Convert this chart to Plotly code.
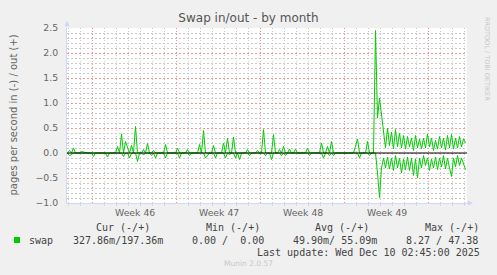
import plotly.graph_objects as go
import pandas as pd

# ---------------- data ----------------
start_time = "2025-11-06 22:00"
step = "4h"

swap_out = [
    0, 0.05, 0, 0.1, 0, 0, 0, 0.03, 0.02, 0,
    0, 0, 0, 0, 0, 0, 0, 0, 0, 0,
    0, 0, 0, 0, 0, 0.13, 0, 0.38, 0, 0.23,
    0.13, 0, 0.15, 0, 0.53, 0, 0, 0, 0.07, 0,
    0.19, 0, 0, 0.05, 0, 0, 0, 0, 0, 0.17,
    0, 0, 0, 0, 0, 0.1, 0, 0, 0, 0,
    0.07, 0, 0, 0, 0, 0, 0.17, 0, 0.45, 0,
    0, 0, 0, 0.15, 0, 0, 0, 0, 0.2, 0,
    0.3, 0, 0, 0.32, 0, 0, 0, 0, 0, 0,
    0.07, 0, 0, 0, 0, 0.05, 0, 0, 0.47, 0,
    0, 0, 0, 0.37, 0, 0, 0.07, 0, 0.13, 0,
    0, 0.08, 0, 0, 0.08, 0, 0, 0, 0, 0,
    0.1, 0, 0, 0, 0, 0, 0, 0.2, 0, 0,
    0.13, 0, 0.23, 0, 0, 0, 0, 0, 0, 0,
    0, 0, 0, 0, 0.13, 0.28, 0, 0, 0, 0,
    0.23, 0, 0, 0, 2.45, 0.7, 1.1, 0.77, 0.45, 0.1,
    0.5, 0.15, 0.42, 0.08, 0.47, 0.12, 0.4, 0.1, 0.35, 0.08,
    0.33, 0.12, 0.3, 0.05, 0.35, 0.1, 0.28, 0.08, 0.3, 0.1,
    0.38, 0.12, 0.3, 0.05, 0.25, 0.08, 0.33, 0.1, 0.3, 0.06,
    0.35, 0.1, 0.37, 0.08, 0.3, 0.1, 0.33, 0.12, 0.28, 0.2,
]

swap_in = [
    0, 0.05, 0.03, 0, 0, 0, 0, 0, 0, 0,
    0, 0, 0, 0.07, 0, 0, 0, 0, 0, 0,
    0.08, 0, 0, 0, 0, 0, 0, 0, 0.07, 0,
    0, 0.1, 0, 0, 0, 0.17, 0, 0, 0.04, 0,
    0, 0, 0.05, 0, 0.1, 0, 0, 0, 0, 0.1,
    0, 0, 0, 0, 0, 0, 0.1, 0, 0, 0,
    0, 0.05, 0, 0, 0, 0, 0, 0, 0, 0.1,
    0.05, 0, 0, 0, 0.1, 0, 0, 0, 0, 0.1,
    0, 0.03, 0, 0, 0.1, 0, 0.13, 0, 0, 0,
    0, 0.05, 0, 0, 0, 0, 0, 0, 0, 0.05,
    0, 0, 0.13, 0, 0, 0, 0, 0.05, 0, 0.05,
    0, 0, 0, 0, 0, 0, 0, 0, 0, 0,
    0, 0.05, 0, 0, 0, 0, 0, 0, 0.1, 0,
    0, 0.05, 0, 0.05, 0, 0, 0, 0, 0, 0,
    0, 0, 0, 0, 0, 0, 0.1, 0, 0, 0,
    0, 0.05, 0, 0, 0, 0.4, 0.89, 0.3, 0.1, 0.3,
    0.08, 0.32, 0.1, 0.35, 0.05, 0.3, 0.1, 0.4, 0.12, 0.33,
    0.08, 0.35, 0.1, 0.45, 0.12, 0.5, 0.1, 0.3, 0.05, 0.25,
    0.1, 0.35, 0.12, 0.3, 0.08, 0.33, 0.1, 0.28, 0.05, 0.32,
    0.1, 0.3, 0.47, 0.1, 0.28, 0.05, 0.25, 0.1, 0.2, 0.33,
]

x_range = ["2025-11-06 21:00", "2025-12-10 05:00"]
y_range = [-1, 2.5]
week_start = "2025-11-09"
week_labels = ["Week 46", "Week 47", "Week 48", "Week 49"]
week_label_pos = ["2025-11-12 12:00", "2025-11-19 12:00",
                  "2025-11-26 12:00", "2025-12-03 12:00"]

legend_headers = ["Cur (-/+)", "Min (-/+)", "Avg (-/+)", "Max (-/+)"]
legend_name = "swap"
legend_values = ["327.86m/197.36m", "0.00 /  0.00", "49.90m/ 55.09m", "8.27 / 47.38"]
last_update = "Last update: Wed Dec 10 02:45:00 2025"
title_text = "Swap in/out - by month"
y_title = "pages per second in (-) / out (+)"

# ---------------- figure ----------------
times = pd.date_range(start=start_time, periods=len(swap_out), freq=step)
GREEN = "#00CC00"
W, H = 497, 275
L, R, T, B = 67, 467, 28, 203


def px(x):
    return (x - L) / (R - L)


def py(y):
    return (B - y) / (B - T)


fig = go.Figure()
fig.add_trace(go.Scatter(x=times, y=[-v for v in swap_in], mode="lines",
                         line=dict(color=GREEN, width=1), showlegend=False,
                         hoverinfo="skip"))
fig.add_trace(go.Scatter(x=times, y=swap_out, mode="lines",
                         line=dict(color=GREEN, width=1), showlegend=False,
                         hoverinfo="skip"))

MAJ = "#EC9595"
MIN = "#C8C8C8"
AX = "#CFD6F8"
FONT = "#666666"
XDASH = "1px,2px"
YDASH = "2px,2px"

fig.update_layout(
    width=W, height=H,
    margin=dict(l=L, r=W - R, t=T, b=H - B),
    paper_bgcolor="#F0F0F0",
    plot_bgcolor="#FFFFFF",
    font=dict(family="DejaVu Sans", color=FONT, size=9.3),
    title=dict(text=title_text, x=0.5, xref="container", xanchor="center",
               y=1 - 18 / H, yref="container", yanchor="middle",
               font=dict(family="DejaVu Sans", size=12, color="#555555")),
    xaxis=dict(type="date", range=x_range, tick0=week_start,
               dtick=7 * 86400000, showticklabels=False, ticks="",
               showgrid=True, gridcolor=MAJ, griddash=XDASH, gridwidth=1,
               showline=True, linecolor=AX, linewidth=1, zeroline=False,
               minor=dict(tick0=week_start, dtick=86400000, showgrid=True,
                          gridcolor=MIN, griddash=XDASH, gridwidth=1,
                          ticks="outside", ticklen=2, tickcolor=AX)),
    yaxis=dict(type="linear", range=y_range, tickmode="linear", tick0=0,
               dtick=0.5, tickformat=".1f",
               showgrid=True, gridcolor=MAJ, griddash=YDASH, gridwidth=1,
               showline=True, linecolor=AX, linewidth=1, zeroline=False,
               ticks="", ticklabelstandoff=6,
               tickfont=dict(size=9.3, color=FONT),
               minor=dict(tick0=0, dtick=0.1, showgrid=True, gridcolor=MIN,
                          griddash=YDASH, gridwidth=1)),
    showlegend=False,
)

# zero rule drawn above the data (rrdtool HRULE)
fig.add_shape(type="line", xref="paper", yref="y", x0=0, x1=1, y0=0, y1=0,
              line=dict(color="#000000", width=1), layer="above")

ann = []
# week labels under the x axis, centred on each week
for wx, wtxt in zip(week_label_pos, week_labels):
    ann.append(dict(text=wtxt, x=wx, y=py(212), xref="x", yref="paper",
                    showarrow=False, xanchor="center", yanchor="middle",
                    font=dict(family="DejaVu Sans", size=9.3, color=FONT)))
# y axis title
ann.append(dict(text=y_title, x=px(13), y=py(115.5), xref="paper", yref="paper",
                showarrow=False, textangle=-90, xanchor="center", yanchor="middle",
                font=dict(family="DejaVu Sans", size=10, color=FONT)))
# axis arrows
ann.append(dict(text="", x=px(L), y=py(21), xref="paper", yref="paper",
                ax=0, ay=8, showarrow=True, arrowhead=2, arrowsize=1,
                arrowwidth=1, arrowcolor=AX))
ann.append(dict(text="", x=px(473), y=py(B), xref="paper", yref="paper",
                ax=-8, ay=0, showarrow=True, arrowhead=2, arrowsize=1,
                arrowwidth=1, arrowcolor=AX))
# watermark
ann.append(dict(text="RRDTOOL / TOBI OETIKER", x=px(487), y=py(59),
                xref="paper", yref="paper", showarrow=False, textangle=90,
                xanchor="center", yanchor="middle",
                font=dict(family="DejaVu Sans", size=6.5, color="#C8C8C8")))

MONO = dict(family="DejaVu Sans Mono", size=10, color="#444444")
header_x = [94.3, 204, 313.3, 422.7]
for hx, htxt in zip(header_x, legend_headers):
    ann.append(dict(text=htxt, x=px(hx), y=py(227.5), xref="paper", yref="paper",
                    showarrow=False, xanchor="left", yanchor="middle", font=MONO))
ann.append(dict(text=legend_name, x=px(26.7), y=py(240), xref="paper", yref="paper",
                showarrow=False, xanchor="left", yanchor="middle", font=MONO))
value_x = [71.3, 190, 291, 404]
for vx, vtxt in zip(value_x, legend_values):
    ann.append(dict(text=vtxt.replace(" ", "\u00a0"), x=px(vx), y=py(240),
                    xref="paper", yref="paper", showarrow=False,
                    xanchor="left", yanchor="middle", font=MONO))
ann.append(dict(text=last_update.replace(" ", "\u00a0"), x=px(482.3), y=py(252),
                xref="paper", yref="paper", showarrow=False, xanchor="right",
                yanchor="middle", font=MONO))
ann.append(dict(text="Munin 2.0.57", x=px(248), y=py(263.5), xref="paper",
                yref="paper", showarrow=False, xanchor="center", yanchor="middle",
                font=dict(family="DejaVu Sans", size=7.5, color="#C8C8C8")))
fig.update_layout(annotations=ann)

# legend colour square
fig.add_shape(type="rect", xref="paper", yref="paper",
              x0=px(14), x1=px(20), y0=py(243), y1=py(237),
              fillcolor=GREEN, line=dict(width=0))

fig.write_html("out.html")
